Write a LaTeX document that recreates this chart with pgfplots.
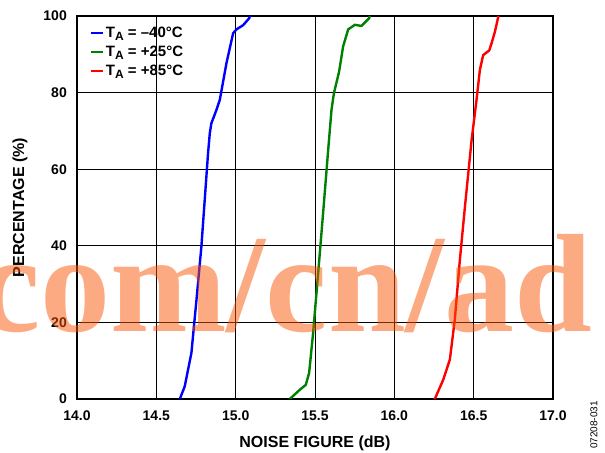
\documentclass[border=0pt]{standalone}
\usepackage{fontspec}
\setmainfont{Liberation Sans}
\newfontfamily\wmfont{Liberation Serif}
\usepackage{pgfplots}
\pgfplotsset{compat=1.18}
\definecolor{cblue}{RGB}{0,0,255}
\definecolor{cgreen}{RGB}{0,128,0}
\definecolor{cred}{RGB}{255,0,0}
\definecolor{wm}{RGB}{249,85,5}
\newcommand{\TA}{T\raisebox{-0.3ex}{\fontsize{12bp}{13bp}\selectfont A}}
\begin{document}
\begin{tikzpicture}
\path[use as bounding box] (0,0) rectangle (605bp,453bp);
\begin{axis}[
  at={(77bp,54bp)}, anchor=south west,
  width=476bp, height=383bp, scale only axis,
  xmin=14, xmax=17, ymin=0, ymax=100,
  xtick={14,14.5,15,15.5,16,16.5,17},
  ytick={0,20,40,60,80,100},
  x tick label style={/pgf/number format/fixed, /pgf/number format/fixed zerofill, /pgf/number format/precision=1, anchor=center, yshift=-16.5bp},
  /pgf/number format/assume math mode=true,
  grid=major,
  major grid style={black, line width=0.9bp},
  axis line style={black, line width=1.4bp},
  tick style={draw=none},
  ticklabel style={font=\fontsize{14bp}{16bp}\selectfont\bfseries},
  yticklabel style={anchor=east, inner sep=0pt, xshift=-10bp},
  xlabel={NOISE FIGURE (dB)},
  ylabel={PERCENTAGE (\%)},
  label style={font=\fontsize{16bp}{18bp}\selectfont\bfseries},
  xlabel style={at={(axis description cs:0.5,-0.117)}, anchor=center},
  ylabel style={at={(axis description cs:-0.12,0.5)}, anchor=center},
  legend style={draw=none, fill=none, at={(axis description cs:0.027,0.975)}, anchor=north west,
    inner sep=0pt, row sep=4bp, font=\fontsize{15bp}{17bp}\selectfont\bfseries,
    nodes={inner sep=1.5bp}},
  legend cell align=left,
  legend image code/.code={\draw[mark repeat=2,mark phase=2,#1] plot coordinates {(0bp,0bp) (6bp,0bp) (12bp,0bp)};},
]
\addplot[color=cblue, line width=2.4bp, line join=round] coordinates {
(14.648,0) (14.679,3.3) (14.721,12) (14.753,25.9) (14.784,39.8) (14.805,52) (14.826,64.2) (14.837,69.4) (14.847,72) (14.879,75.5) (14.9,78.1) (14.942,87.7) (14.984,95.5) (15.005,96.5) (15.047,97.6) (15.085,99.4) (15.09,100)
};
\addlegendentry{\TA{} = –40°C}
\addplot[color=cgreen, line width=2.4bp, line join=round] coordinates {
(15.341,0) (15.404,2.4) (15.442,3.7) (15.463,6.8) (15.488,17.2) (15.52,32.9) (15.551,48.5) (15.583,65) (15.604,75.5) (15.619,79.8) (15.652,85.5) (15.677,92) (15.709,96.5) (15.751,97.7) (15.793,97.4) (15.841,99.4) (15.845,100)
};
\addlegendentry{\TA{} = +25°C}
\addplot[color=cred, line width=2.4bp, line join=round] coordinates {
(16.255,0) (16.308,5) (16.35,10.3) (16.381,20.7) (16.413,36.3) (16.445,50.2) (16.487,67.6) (16.518,78.1) (16.539,85.9) (16.56,89.8) (16.598,91) (16.613,92.9) (16.634,95.9) (16.655,99.8) (16.656,100)
};
\addlegendentry{\TA{} = +85°C}
\end{axis}
\node[rotate=90, font=\fontsize{10bp}{11bp}\selectfont, inner sep=0pt] at (594bp,28bp) {07208-031};
\node[anchor=base west, inner sep=0pt, text=wm, text opacity=0.5,
  font=\wmfont\bfseries\fontsize{140bp}{140bp}\selectfont] at (-22bp,121bp) {com/cn/ad};
\end{tikzpicture}
\end{document}
